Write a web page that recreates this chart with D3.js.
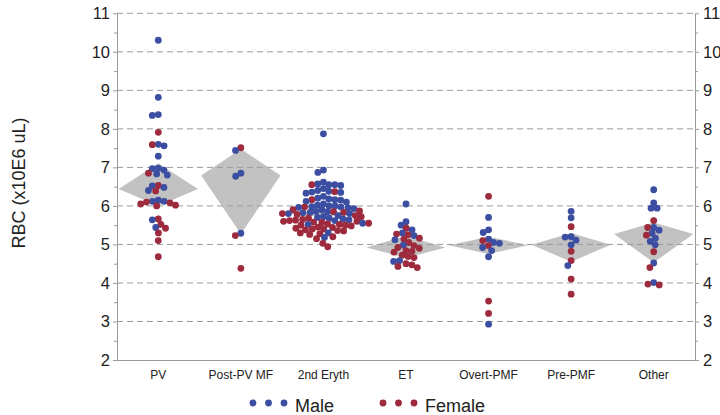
<!DOCTYPE html>
<html>
<head>
<meta charset="utf-8">
<script src="https://cdn.jsdelivr.net/npm/d3@7"></script>
<style>
  body { margin: 0; background: #fff; }
  svg { font-family: "Liberation Sans", Arial, sans-serif; }
</style>
</head>
<body>
<div id="chart-area"></div>
<script>
const MARGIN = { LEFT: 117, RIGHT: 25, TOP: 13.3, BOTTOM: 55 }
const WIDTH = 720 - MARGIN.LEFT - MARGIN.RIGHT
const HEIGHT = 415 - MARGIN.TOP - MARGIN.BOTTOM

// Data
const categories = ["PV", "Post-PV MF", "2nd Eryth", "ET", "Overt-PMF", "Pre-PMF", "Other"]
const yTicks = [2, 3, 4, 5, 6, 7, 8, 9, 10, 11]

const maleValues = [
  [10.3, 8.82, 8.37, 8.35, 7.6, 7.56, 7.29, 6.98, 6.97, 6.93, 6.83, 6.8, 6.52, 6.48, 6.4, 6.15, 6.12, 6.12, 5.64, 5.44],
  [7.44, 6.85, 6.77, 5.29],
  [7.87, 6.93, 6.87, 6.62, 6.57, 6.55, 6.55, 6.53, 6.45, 6.4, 6.38, 6.36, 6.35, 6.33, 6.25,
   6.2, 6.18, 6.16, 6.15, 6.12, 6.1, 6.05, 6.02, 6.0, 6.0, 5.98, 5.97, 5.96, 5.95, 5.93, 5.9,
   5.86, 5.85, 5.83, 5.82, 5.8, 5.8, 5.75, 5.72, 5.7, 5.68, 5.66, 5.64, 5.62, 5.55, 5.52, 5.3, 5.18],
  [6.05, 5.59, 5.5, 5.38, 5.3, 5.23, 5.12, 4.98, 4.58, 4.56],
  [5.7, 5.38, 5.31, 5.14, 5.05, 5.03, 4.92, 4.84, 4.68, 2.93],
  [5.86, 5.69, 5.2, 5.19, 5.11, 4.99, 4.45],
  [6.42, 6.08, 5.94, 5.94, 5.44, 5.37, 5.29, 5.16, 5.08, 4.99, 4.52, 4.01]
]
const femaleValues = [
  [7.91, 7.59, 6.85, 6.53, 6.39, 6.1, 6.05, 6.0, 6.02, 6.08, 5.66, 5.52, 5.42, 5.3, 5.1, 4.68],
  [7.51, 5.23, 4.38],
  [6.55, 6.37, 6.16, 5.97, 5.9, 5.87, 5.85, 5.83, 5.8, 5.78, 5.75, 5.72, 5.68, 5.65, 5.63, 5.62,
   5.6, 5.6, 5.58, 5.57, 5.55, 5.53, 5.52, 5.5, 5.5, 5.48, 5.45, 5.44, 5.42, 5.4, 5.4, 5.38,
   5.36, 5.35, 5.3, 5.28, 5.26, 5.2, 5.15, 5.03, 4.94],
  [5.42, 5.27, 5.25, 5.16, 5.14, 5.05, 4.97, 4.92, 4.9, 4.84, 4.82, 4.8, 4.72, 4.69, 4.66, 4.5, 4.47, 4.43, 4.4],
  [6.25, 5.1, 4.97, 3.53, 3.21],
  [5.46, 4.82, 4.58, 4.1, 3.71],
  [5.62, 5.44, 5.24, 4.81, 4.4, 3.97, 3.95]
]
const diamondMean = [6.44, 6.79, 5.8, 4.92, 4.98, 4.99, 5.27]
const diamondLow  = [6.0, 5.27, 5.72, 4.65, 4.75, 4.55, 4.53]
const diamondHigh = [7.11, 7.48, 5.88, 5.22, 5.2, 5.3, 5.57]

const MALE_COLOR = "#3b4ea2"
const FEMALE_COLOR = "#9d2a3d"
const R = 3.4

const svg = d3.select("#chart-area").append("svg")
  .attr("width", 720)
  .attr("height", 415)

const g = svg.append("g")
  .attr("transform", `translate(${MARGIN.LEFT}, ${MARGIN.TOP})`)

// Scales
const x = d3.scaleBand()
  .domain(categories)
  .range([0, WIDTH])
const y = d3.scaleLinear()
  .domain([2, 11])
  .range([HEIGHT, 0])

// Diamonds
const diamonds = categories.map((c, i) => ({ c, mean: diamondMean[i], lo: diamondLow[i], hi: diamondHigh[i] }))
const hw = x.bandwidth() * 0.48
g.selectAll("path.diamond")
  .data(diamonds)
  .enter().append("path")
  .attr("class", "diamond")
  .attr("fill", "#c2c2c2")
  .attr("d", d => {
    const cx = x(d.c) + x.bandwidth() / 2
    return `M${cx - hw},${y(d.mean)}L${cx},${y(d.hi)}L${cx + hw},${y(d.mean)}L${cx},${y(d.lo)}Z`
  })

// Grid
g.selectAll("line.grid")
  .data(yTicks.filter(t => t > 2))
  .enter().append("line")
  .attr("class", "grid")
  .attr("x1", 0)
  .attr("x2", WIDTH)
  .attr("y1", d => y(d))
  .attr("y2", d => y(d))
  .attr("stroke", "#9a9a9a")
  .attr("stroke-width", 1)
  .attr("stroke-dasharray", "6,4")

// Axes
const minor = d3.range(2.5, 11, 1)
function styleAxis(sel) {
  sel.select(".domain").attr("stroke", "#999")
  sel.selectAll(".tick line").attr("stroke", "#999")
  sel.selectAll(".tick text").attr("fill", "#222")
}
g.append("g")
  .call(d3.axisLeft(y).tickValues(yTicks).tickSize(4).tickPadding(3).tickSizeOuter(0))
  .attr("font-size", 16.5)
  .call(styleAxis)
g.append("g")
  .attr("transform", `translate(${WIDTH}, 0)`)
  .call(d3.axisRight(y).tickValues(yTicks).tickSize(4).tickPadding(4).tickSizeOuter(0))
  .attr("font-size", 16.5)
  .call(styleAxis)
g.append("g")
  .call(d3.axisLeft(y).tickValues(minor).tickSize(3).tickFormat("").tickSizeOuter(0))
  .call(styleAxis)
g.append("g")
  .attr("transform", `translate(${WIDTH}, 0)`)
  .call(d3.axisRight(y).tickValues(minor).tickSize(3).tickFormat("").tickSizeOuter(0))
  .call(styleAxis)

g.append("g")
  .attr("transform", `translate(0, ${HEIGHT})`)
  .call(d3.axisBottom(x).tickSize(0).tickPadding(10.5).tickSizeOuter(0))
  .attr("font-size", 12)
  .call(styleAxis)

// Y label
svg.append("text")
  .attr("transform", "rotate(-90)")
  .attr("x", -183)
  .attr("y", 25)
  .attr("font-size", 18)
  .attr("text-anchor", "middle")
  .attr("fill", "#222")
  .text("RBC (x10E6 uL)")

// Beeswarm layout per category
const D = 6.0
function swarm(points) {
  const placed = []
  points.sort((a, b) => b.v - a.v)
  points.forEach(p => {
    const py = y(p.v)
    const near = placed.filter(q => Math.abs(q.py - py) < D)
    const cands = [0]
    near.forEach(q => {
      const dx = Math.sqrt(D * D - (q.py - py) ** 2)
      cands.push(q.dx - dx, q.dx + dx)
    })
    cands.sort((a, b) => Math.abs(a) - Math.abs(b) || a - b)
    const ok = cands.find(c => near.every(q => (q.dx - c) ** 2 + (q.py - py) ** 2 >= D * D - 0.01))
    p.dx = ok
    p.py = py
    placed.push(p)
  })
  return placed
}

let allPoints = []
categories.forEach((c, i) => {
  const pts = []
  maleValues[i].forEach(v => pts.push({ c, v, sex: "Male" }))
  femaleValues[i].forEach(v => pts.push({ c, v, sex: "Female" }))
  allPoints = allPoints.concat(swarm(pts))
})

g.selectAll("circle.pt")
  .data(allPoints)
  .enter().append("circle")
  .attr("class", "pt")
  .attr("cx", d => x(d.c) + x.bandwidth() / 2 + d.dx)
  .attr("cy", d => d.py)
  .attr("r", R)
  .attr("fill", d => d.sex === "Male" ? MALE_COLOR : FEMALE_COLOR)

// Legend
const legendItems = [
  { label: "Male", color: MALE_COLOR, x: 253 },
  { label: "Female", color: FEMALE_COLOR, x: 383 }
]
legendItems.forEach(item => {
  const row = svg.append("g").attr("transform", `translate(${item.x}, 403)`)
  ;[0, 15.5, 31].forEach(off => {
    row.append("circle")
      .attr("cx", off)
      .attr("cy", 0)
      .attr("r", 3.4)
      .attr("fill", item.color)
  })
  row.append("text")
    .attr("x", 42)
    .attr("y", 8.5)
    .attr("font-size", 18)
    .attr("fill", "#222")
    .text(item.label)
})
</script>
</body>
</html>
